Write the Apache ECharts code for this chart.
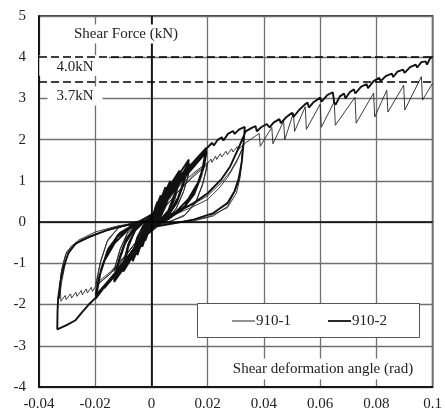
<!DOCTYPE html>
<html><head><meta charset="utf-8">
<script src="https://cdn.jsdelivr.net/npm/echarts@6/dist/echarts.min.js"></script>
<style>html,body{margin:0;padding:0;background:#fff}#c{width:445px;height:416px}</style>
</head><body><div id="c"></div>
<script>
const xTickLabels = ['-0.04','-0.02','0','0.02','0.04','0.06','0.08','0.1'];
const yTickLabels = ['-4','-3','-2','-1','0','1','2','3','4','5'];
const seriesNames = ['910-1','910-2'];
const refLineValues = [4.0, 3.4];
const refLineLabels = ['4.0kN','3.7kN'];
const yAxisTitle = 'Shear Force (kN)';
const xAxisTitle = 'Shear deformation angle (rad)';

// 910-1 (thin line)
const series910_1 = [
[0,0],
[0.0008,0.18],[0.0015,0.31],[0.0022,0.4],[0.0016,0.18],[0.0007,0.04],[-0.0005,-0.06],[-0.0013,-0.24],[-0.0022,-0.38],[-0.0016,-0.17],[-0.0006,-0.03],[0.0005,0.06],[0.0014,0.24],[0.0022,0.38],[0.0015,0.15],[0.0005,0.02],[-0.0006,-0.07],[-0.0015,-0.24],[-0.0022,-0.36],[-0.0014,-0.14],[-0.0004,0],
[0.0009,0.14],[0.002,0.34],[0.0033,0.52],[0.0025,0.24],[0.0012,0.06],[-0.0002,-0.04],[-0.0013,-0.18],[-0.0023,-0.34],[-0.0033,-0.5],[-0.0025,-0.22],[-0.0012,-0.05],[0.0001,0.04],[0.0016,0.22],[0.0033,0.5],[0.0024,0.2],[0.001,0.02],[-0.0004,-0.06],[-0.0017,-0.22],[-0.0033,-0.48],[-0.0023,-0.18],[-0.0009,-0.02],
[0.0007,0.05],[0.0022,0.26],[0.0037,0.48],[0.005,0.68],[0.0039,0.34],[0.0023,0.1],[0.0006,-0.02],[-0.0012,-0.12],[-0.0027,-0.3],[-0.004,-0.48],[-0.005,-0.65],[-0.0039,-0.32],[-0.0022,-0.08],[-0.0004,0.03],[0.0013,0.15],[0.0032,0.38],[0.005,0.65],[0.0038,0.3],[0.002,0.06],[0.0002,-0.04],[-0.0016,-0.17],[-0.0034,-0.38],[-0.005,-0.62],[-0.0037,-0.28],[-0.0019,-0.05],
[0.0,0.03],[0.0017,0.18],[0.0034,0.4],[0.005,0.6],[0.0067,0.82],[0.0054,0.44],[0.0034,0.13],[0.001,-0.02],[-0.0012,-0.12],[-0.0032,-0.34],[-0.005,-0.57],[-0.0067,-0.8],[-0.0053,-0.4],[-0.0031,-0.1],[-0.0008,0.03],[0.0015,0.15],[0.0037,0.4],[0.0067,0.78],[0.0052,0.38],[0.003,0.08],[0.0006,-0.04],[-0.0016,-0.16],[-0.0038,-0.4],[-0.0067,-0.76],[-0.0051,-0.35],[-0.0028,-0.07],
[-0.0004,0.04],[0.002,0.22],[0.0045,0.5],[0.0072,0.76],[0.01,1.02],[0.0085,0.6],[0.006,0.22],[0.003,0.03],[0,-0.07],[-0.003,-0.3],[-0.0057,-0.58],[-0.0078,-0.78],[-0.01,-1.0],[-0.0084,-0.55],[-0.0058,-0.18],[-0.0028,0],[0.0003,0.07],[0.0035,0.33],[0.0068,0.66],[0.01,0.98],[0.0083,0.54],[0.0057,0.17],[0.0026,0.0],[-0.0004,-0.1],[-0.0037,-0.36],[-0.0068,-0.68],[-0.01,-0.96],[-0.0082,-0.5],[-0.0055,-0.14],[-0.0024,0.02],
[0.001,0.1],[0.0042,0.4],[0.0075,0.72],[0.0105,0.98],[0.0133,1.2],[0.0115,0.76],[0.0088,0.34],[0.0058,0.08],[0.0025,-0.03],[-0.001,-0.14],[-0.0045,-0.45],[-0.008,-0.8],[-0.0133,-1.2],[-0.0113,-0.7],[-0.0086,-0.28],[-0.0054,-0.05],[-0.002,0.04],[0.002,0.16],[0.006,0.52],[0.0095,0.86],[0.0133,1.16],[0.0112,0.7],[0.0085,0.28],[0.0052,0.04],[0.0018,-0.06],[-0.0018,-0.2],[-0.0055,-0.55],[-0.0095,-0.92],[-0.0133,-1.16],[-0.0111,-0.64],[-0.0083,-0.22],[-0.005,-0.02],
[-0.001,0.06],[0.003,0.3],[0.007,0.65],[0.011,0.95],[0.0155,1.22],[0.02,1.45],[0.0183,0.95],[0.0158,0.5],[0.012,0.18],[0.007,0.03],[0.002,-0.06],[-0.002,-0.2],[-0.0065,-0.58],[-0.011,-0.98],[-0.0155,-1.3],[-0.0198,-1.55],[-0.0182,-1.0],[-0.0158,-0.48],[-0.012,-0.15],[-0.006,0],[-0.001,0.06],[0.004,0.3],[0.009,0.7],[0.0145,1.08],[0.02,1.4],[0.0181,0.88],[0.0155,0.44],[0.0115,0.14],[0.006,0],[0.001,-0.08],[-0.004,-0.35],[-0.009,-0.78],[-0.0145,-1.2],[-0.0198,-1.5],[-0.018,-0.92],[-0.0155,-0.42],[-0.0115,-0.12],[-0.005,0.02],
[0.0,0.08],[0.005,0.38],[0.01,0.78],[0.015,1.15],[0.02,1.43],[0.0212,1.53],[0.0215,1.45],[0.0228,1.6],[0.0232,1.52],[0.0245,1.66],[0.025,1.58],[0.0265,1.72],[0.027,1.64],[0.0285,1.78],[0.029,1.7],[0.0305,1.83],[0.031,1.76],[0.0325,1.87],
[0.0318,1.3],[0.0308,0.95],[0.0297,0.75],[0.027,0.38],[0.022,0.15],[0.015,0.03],[0.007,-0.03],[0.0,-0.08],
[-0.004,-0.35],[-0.009,-0.8],[-0.0145,-1.25],[-0.0198,-1.55],[-0.021,-1.68],[-0.0214,-1.58],[-0.0228,-1.72],[-0.0232,-1.62],[-0.0246,-1.76],[-0.025,-1.66],[-0.0265,-1.8],[-0.0269,-1.7],[-0.0284,-1.84],[-0.0288,-1.74],[-0.0303,-1.88],[-0.0307,-1.78],[-0.0322,-1.92],[-0.0328,-1.96],
[-0.0325,-1.45],[-0.0318,-1.1],[-0.0306,-0.8],[-0.0285,-0.58],[-0.025,-0.43],[-0.019,-0.27],[-0.012,-0.13],[-0.005,-0.03],[0,0.02],
[0.0095,0.22],[0.015,0.38],[0.02,0.55],[0.024,0.82],[0.027,1.08],[0.03,1.42],[0.0325,1.8],
[0.0316,1.1],[0.0302,0.7],[0.027,0.35],[0.02,0.12],[0.01,0.0],[0.003,-0.04],
[-0.0056,-0.02],[-0.0141,-0.15],[-0.0198,-0.31],[-0.0258,-0.48],[-0.0293,-0.68],[-0.0304,-0.92],[-0.0318,-1.4],[-0.0328,-1.86],
[-0.0322,-1.25],[-0.0302,-0.72],[-0.026,-0.44],[-0.02,-0.24],[-0.012,-0.09],[-0.004,-0.01],
[0.005,0.12],[0.0095,0.25],[0.015,0.44],[0.02,0.64],[0.025,0.97],[0.028,1.22],[0.031,1.58],[0.033,1.9],
[0.0383,2.15],[0.0387,1.84],[0.0428,2.3],[0.0432,1.9],[0.047,2.45],[0.0474,2.0],[0.0505,2.65],[0.0509,2.2],[0.0547,2.8],[0.0551,2.25],[0.06,2.86],[0.0604,2.3],[0.065,2.92],[0.0654,2.35],[0.0724,3.03],[0.0728,2.4],[0.079,3.13],[0.0794,2.55],[0.0837,3.2],[0.0841,2.67],[0.0897,3.32],[0.0901,2.72],[0.096,3.53],[0.0964,2.96],[0.1,3.37]
];

// 910-2 (thick line)
const series910_2 = [
[0,0],
[0.0008,0.22],[0.0015,0.38],[0.0022,0.5],[0.0017,0.25],[0.0008,0.08],[-0.0004,-0.05],[-0.0012,-0.25],[-0.0022,-0.45],[-0.0016,-0.2],[-0.0007,-0.05],[0.0004,0.06],
[0.0013,0.28],[0.0022,0.47],[0.0016,0.22],[0.0006,0.05],[-0.0005,-0.06],[-0.0014,-0.26],[-0.0022,-0.43],[-0.0015,-0.18],[-0.0005,-0.03],
[0.0008,0.15],[0.0018,0.38],[0.0033,0.65],[0.0026,0.32],[0.0014,0.1],[0,-0.03],[-0.0012,-0.18],[-0.0022,-0.38],[-0.0033,-0.6],[-0.0026,-0.28],[-0.0013,-0.07],[0,0.03],
[0.0015,0.22],[0.0025,0.42],[0.0033,0.62],[0.0025,0.28],[0.0012,0.06],[-0.0002,-0.05],[-0.0016,-0.24],[-0.0033,-0.58],[-0.0024,-0.24],[-0.0011,-0.05],
[0.0005,0.05],[0.002,0.3],[0.0035,0.58],[0.005,0.85],[0.004,0.45],[0.0025,0.15],[0.0008,0.0],[-0.001,-0.1],[-0.0025,-0.32],[-0.0038,-0.55],[-0.005,-0.8],[-0.004,-0.4],[-0.0024,-0.12],[-0.0006,0.02],
[0.0012,0.15],[0.003,0.42],[0.005,0.8],[0.0039,0.4],[0.0022,0.1],[0.0004,-0.04],[-0.0015,-0.2],[-0.0033,-0.48],[-0.005,-0.78],[-0.0038,-0.36],[-0.0021,-0.08],[-0.0003,0.03],
[0.0015,0.2],[0.003,0.45],[0.0048,0.72],[0.0067,1.0],[0.0055,0.55],[0.0035,0.18],[0.0012,0.0],[-0.001,-0.12],[-0.003,-0.38],[-0.0048,-0.65],[-0.0067,-0.95],[-0.0054,-0.48],[-0.0033,-0.14],[-0.001,0.02],
[0.0012,0.14],[0.0033,0.42],[0.005,0.7],[0.0067,0.96],[0.0053,0.5],[0.0032,0.15],[0.0009,-0.02],[-0.0014,-0.16],[-0.0035,-0.42],[-0.0067,-0.92],[-0.0052,-0.44],[-0.003,-0.1],[-0.0008,0.02],
[0.0018,0.22],[0.004,0.52],[0.0067,0.94],[0.0052,0.46],[0.003,0.12],[0.0006,-0.03],[-0.0018,-0.2],[-0.004,-0.5],[-0.0067,-0.9],[-0.005,-0.4],[-0.0028,-0.08],[-0.0005,0.02],
[0.002,0.28],[0.004,0.58],[0.0065,0.88],[0.01,1.25],[0.0085,0.72],[0.006,0.28],[0.003,0.05],[0,-0.08],[-0.003,-0.35],[-0.0055,-0.7],[-0.0075,-0.92],[-0.01,-1.2],[-0.0084,-0.62],[-0.006,-0.22],[-0.003,-0.02],[0,0.06],
[0.003,0.3],[0.006,0.7],[0.008,0.95],[0.01,1.2],[0.0083,0.66],[0.0058,0.24],[0.0028,0.03],[-0.0002,-0.1],[-0.0035,-0.38],[-0.0065,-0.75],[-0.01,-1.15],[-0.0082,-0.56],[-0.0057,-0.18],[-0.0026,0],
[0.0005,0.06],[0.0035,0.34],[0.0068,0.74],[0.01,1.16],[0.0082,0.62],[0.0056,0.2],[0.0025,0.01],[-0.0005,-0.12],[-0.004,-0.42],[-0.007,-0.8],[-0.01,-1.12],[-0.008,-0.52],[-0.0054,-0.15],[-0.0022,0.02],
[0.001,0.12],[0.004,0.48],[0.007,0.85],[0.01,1.18],[0.0133,1.52],[0.0118,1.05],[0.0095,0.6],[0.0065,0.25],[0.003,0.04],[0,-0.1],[-0.003,-0.35],[-0.006,-0.7],[-0.0095,-1.08],[-0.0133,-1.45],[-0.0117,-0.98],[-0.0094,-0.52],[-0.0062,-0.18],[-0.003,0.0],[0,0.1],
[0.004,0.4],[0.0075,0.8],[0.0105,1.1],[0.0133,1.45],[0.0116,0.98],[0.0092,0.52],[0.0062,0.2],[0.0027,0.01],[-0.001,-0.16],[-0.0045,-0.5],[-0.008,-0.9],[-0.0133,-1.4],[-0.0115,-0.9],[-0.0091,-0.45],[-0.006,-0.14],[-0.002,0.04],
[0.0015,0.15],[0.005,0.5],[0.009,0.95],[0.0133,1.42],[0.0114,0.92],[0.009,0.47],[0.006,0.16],[0.0024,-0.02],[-0.0015,-0.2],[-0.005,-0.55],[-0.0133,-1.38],[-0.0113,-0.85],[-0.0089,-0.4],[-0.0058,-0.11],[-0.0015,0.05],
[0.002,0.3],[0.006,0.78],[0.01,1.12],[0.0148,1.45],[0.0195,1.8],[0.018,1.25],[0.0158,0.8],[0.012,0.4],[0.007,0.12],[0.002,-0.05],[-0.002,-0.25],[-0.006,-0.65],[-0.01,-1.0],[-0.015,-1.42],[-0.0198,-1.85],[-0.0182,-1.25],[-0.016,-0.78],[-0.0122,-0.36],[-0.007,-0.08],[-0.002,0.05],
[0.002,0.22],[0.006,0.64],[0.011,1.07],[0.0155,1.42],[0.0195,1.74],[0.0178,1.18],[0.0155,0.74],[0.0115,0.35],[0.0062,0.08],[0.001,-0.1],[-0.003,-0.38],[-0.008,-0.82],[-0.013,-1.25],[-0.0198,-1.8],[-0.018,-1.18],[-0.0157,-0.7],[-0.0118,-0.3],[-0.006,-0.04],
[0.0,0.08],[0.005,0.5],[0.01,0.95],[0.015,1.34],[0.0195,1.7],[0.0177,1.12],[0.0152,0.68],[0.011,0.3],[0.005,0.04],[0,-0.15],[-0.004,-0.45],[-0.009,-0.9],[-0.014,-1.32],[-0.0198,-1.78],[-0.0178,-1.12],[-0.0153,-0.64],[-0.0112,-0.26],[-0.005,-0.01],
[0.003,0.3],[0.008,0.85],[0.0125,1.22],[0.0165,1.5],[0.0195,1.66],[0.0185,1.3],[0.0165,0.95],[0.013,0.55],[0.008,0.2],[0.002,-0.02],[-0.003,-0.3],[-0.0085,-0.88],[-0.013,-1.3],[-0.0165,-1.58],[-0.0198,-1.75],[-0.0186,-1.32],[-0.0166,-0.92],[-0.013,-0.5],[-0.008,-0.16],[-0.002,0.02],
[0.0,0.1],[0.005,0.62],[0.01,1.08],[0.015,1.44],[0.0195,1.78],[0.0215,1.92],[0.0222,1.86],[0.0235,1.99],[0.025,2.06],[0.0256,1.98],[0.0272,2.14],[0.029,2.21],[0.0296,2.14],[0.0312,2.25],[0.0332,2.31],
[0.0328,1.95],[0.0321,1.45],[0.031,1.05],[0.0295,0.74],[0.027,0.46],[0.022,0.22],[0.015,0.06],[0.008,-0.03],[0.002,-0.1],
[-0.003,-0.38],[-0.008,-0.82],[-0.013,-1.24],[-0.0175,-1.6],[-0.0198,-1.83],[-0.022,-1.98],[-0.0245,-2.17],[-0.027,-2.38],[-0.0302,-2.5],[-0.0335,-2.6],
[-0.0334,-2.15],[-0.0332,-1.85],[-0.0324,-1.45],[-0.0312,-1.08],[-0.0296,-0.76],[-0.027,-0.52],[-0.022,-0.35],[-0.016,-0.2],[-0.01,-0.09],[-0.004,-0.02],[0.0,0.02],
[0.004,0.1],[0.0095,0.26],[0.015,0.46],[0.02,0.7],[0.025,1.05],[0.028,1.35],[0.031,1.8],[0.0335,2.2],
[0.0355,2.28],[0.037,2.33],[0.0375,2.2],[0.039,2.3],[0.041,2.38],[0.042,2.3],[0.0435,2.42],[0.0455,2.5],[0.046,2.4],[0.048,2.55],[0.05,2.65],[0.0505,2.55],[0.0525,2.72],[0.0545,2.85],[0.0555,2.9],[0.056,2.78],[0.0575,2.9],[0.06,3.02],[0.0605,2.92],[0.0625,3.08],[0.0645,3.15],[0.065,2.9],[0.0655,2.85],[0.067,3.05],[0.0685,3.12],[0.069,3.0],[0.0705,3.15],[0.072,3.22],[0.0725,3.12],[0.0745,3.28],[0.0765,3.35],[0.077,3.25],[0.079,3.42],[0.081,3.5],[0.0815,3.42],[0.0835,3.55],[0.0855,3.6],[0.086,3.52],[0.0875,3.65],[0.0895,3.7],[0.09,3.62],[0.092,3.76],[0.094,3.82],[0.0945,3.75],[0.096,3.88],[0.0975,3.9],[0.098,3.82],[0.099,3.96],[0.1,4.02]
];

const FONT = '"Liberation Serif","Times New Roman",serif';
const chart = echarts.init(document.getElementById('c'), null, {renderer:'canvas'});
chart.setOption({
  animation:false,
  backgroundColor:'#fff',
  grid:{left:39,right:9,top:16,bottom:29,show:true,borderColor:'#000',borderWidth:1.5,backgroundColor:'transparent'},
  xAxis:{type:'value',min:-0.04,max:0.1,interval:0.02,
    axisLine:{show:true,onZero:false,lineStyle:{color:'#000',width:1.5}},
    axisTick:{show:false},
    axisLabel:{margin:10,color:'#222',fontFamily:FONT,fontSize:15,formatter:(v,i)=>xTickLabels[i]},
    splitLine:{show:true,lineStyle:{color:'#707070',width:1.3}}},
  yAxis:{type:'value',min:-4,max:5,interval:1,
    axisLine:{show:true,onZero:false,lineStyle:{color:'#000',width:1.5}},
    axisTick:{show:false},
    axisLabel:{margin:13,color:'#222',fontFamily:FONT,fontSize:15,formatter:(v,i)=>yTickLabels[i]},
    splitLine:{show:true,lineStyle:{color:'#707070',width:1.3}}},
  legend:{show:false,data:seriesNames},
  series:[
    {name:'mask',type:'line',data:[],silent:true,z:1,
     markArea:{silent:true,itemStyle:{color:'#fff'},
       data:[[{xAxis:-0.0399,yAxis:3.55},{xAxis:-0.0152,yAxis:4.05}]]}},
    {name:'ref',type:'line',data:[],silent:true,z:2,
     markLine:{silent:true,symbol:'none',label:{show:false},
       data:[{xAxis:0,lineStyle:{type:'solid',color:'#000',width:1.6}},{yAxis:0,lineStyle:{type:'solid',color:'#000',width:1.6}}]
         .concat(refLineValues.map(v=>({yAxis:v,lineStyle:{type:[8,4],color:'#000',width:1.6}})))}},
    {name:seriesNames[0],type:'line',data:series910_1,showSymbol:false,symbol:'none',
     lineStyle:{color:'#262626',width:0.9},itemStyle:{color:'#262626'},z:3},
    {name:seriesNames[1],type:'line',data:series910_2,showSymbol:false,symbol:'none',
     lineStyle:{color:'#111',width:1.9},itemStyle:{color:'#111'},z:4}
  ],
  graphic:[
    {type:'text',z:100,x:126,y:34,style:{text:yAxisTitle,font:'15px '+FONT,fill:'#222',align:'center',verticalAlign:'middle',backgroundColor:'#fff',padding:[2,3]}},
    {type:'text',z:100,x:75,y:67,style:{text:refLineLabels[0],font:'15px '+FONT,fill:'#222',align:'center',verticalAlign:'middle',backgroundColor:'#fff',padding:[1,8]}},
    {type:'text',z:100,x:75,y:96,style:{text:refLineLabels[1],font:'15px '+FONT,fill:'#222',align:'center',verticalAlign:'middle',backgroundColor:'#fff',padding:[2,9]}},
    {type:'text',z:100,x:323,y:369,style:{text:xAxisTitle,font:'15px '+FONT,fill:'#222',align:'center',verticalAlign:'middle',backgroundColor:'#fff',padding:[3,4]}},
    {type:'group',z:100,children:[
      {type:'rect',z:100,shape:{x:197.5,y:303.5,width:222,height:34},style:{fill:'#fff',stroke:'#555',lineWidth:1}},
      {type:'line',z:101,shape:{x1:232,y1:321,x2:255,y2:321},style:{stroke:'#262626',lineWidth:1}},
      {type:'text',z:101,x:256,y:321,style:{text:seriesNames[0],font:'15px '+FONT,fill:'#222',align:'left',verticalAlign:'middle'}},
      {type:'line',z:101,shape:{x1:328,y1:321,x2:351,y2:321},style:{stroke:'#111',lineWidth:1.8}},
      {type:'text',z:101,x:352,y:321,style:{text:seriesNames[1],font:'15px '+FONT,fill:'#222',align:'left',verticalAlign:'middle'}}
    ]}
  ]
});
</script></body></html>
